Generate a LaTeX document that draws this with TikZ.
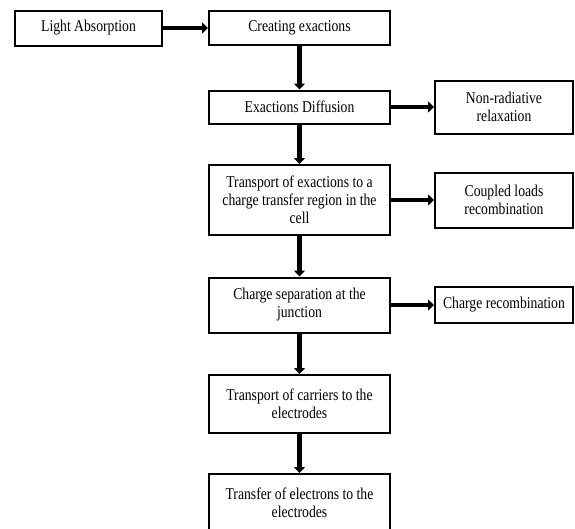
\documentclass[tikz,border=0pt]{standalone}
\usepackage{fontspec}
\setmainfont{Liberation Serif}[FakeStretch=0.83]
\usetikzlibrary{arrows.meta}

\tikzset{
    stage/.style={draw,line width=2pt,align=center,inner sep=2pt,
        font=\fontsize{16.5}{18}\selectfont},
    flow/.style={line width=4.5pt,-{Triangle[length=6pt,width=11pt]}}
}

\begin{document}
\begin{tikzpicture}[x=1pt,y=-1pt]
\useasboundingbox (0,0) rectangle (575,528);
\clip (0,0) rectangle (575,528);

% Main chain
\node[stage,minimum width=147pt,minimum height=35pt] (light) at (88.5,28) {Light Absorption};
\node[stage,minimum width=181pt,minimum height=34pt] (create) at (299.5,28) {Creating exactions};
\node[stage,minimum width=181pt,minimum height=33pt] (diff) at (299.5,107) {Exactions Diffusion};
\node[stage,minimum width=181pt,minimum height=70pt] (transp) at (299.5,200) {Transport of exactions to a\\charge transfer region in the\\cell};
\node[stage,minimum width=181pt,minimum height=55pt] (sep) at (299.5,305) {Charge separation at the\\junction};
\node[stage,minimum width=181pt,minimum height=58pt] (carr) at (299.5,404) {Transport of carriers to the\\electrodes};
\node[stage,minimum width=181pt,minimum height=58pt] (transf) at (299.5,503) {Transfer of electrons to the\\electrodes};

% Loss channels
\node[stage,minimum width=138pt,minimum height=53pt] (nonrad) at (504,107) {Non-radiative\\relaxation};
\node[stage,minimum width=138pt,minimum height=55pt] (coupled) at (504,200) {Coupled loads\\recombination};
\node[stage,minimum width=138pt,minimum height=36pt] (crec) at (504,305) {Charge recombination};

% Arrows
\draw[flow] (light) -- (create);
\foreach \a/\b in {create/diff, diff/transp, transp/sep, sep/carr, carr/transf} {
    \draw[flow] (\a) -- (\b);
}
\foreach \a/\b in {diff/nonrad, transp/coupled, sep/crec} {
    \draw[flow] (\a) -- (\b);
}

\end{tikzpicture}
\end{document}
